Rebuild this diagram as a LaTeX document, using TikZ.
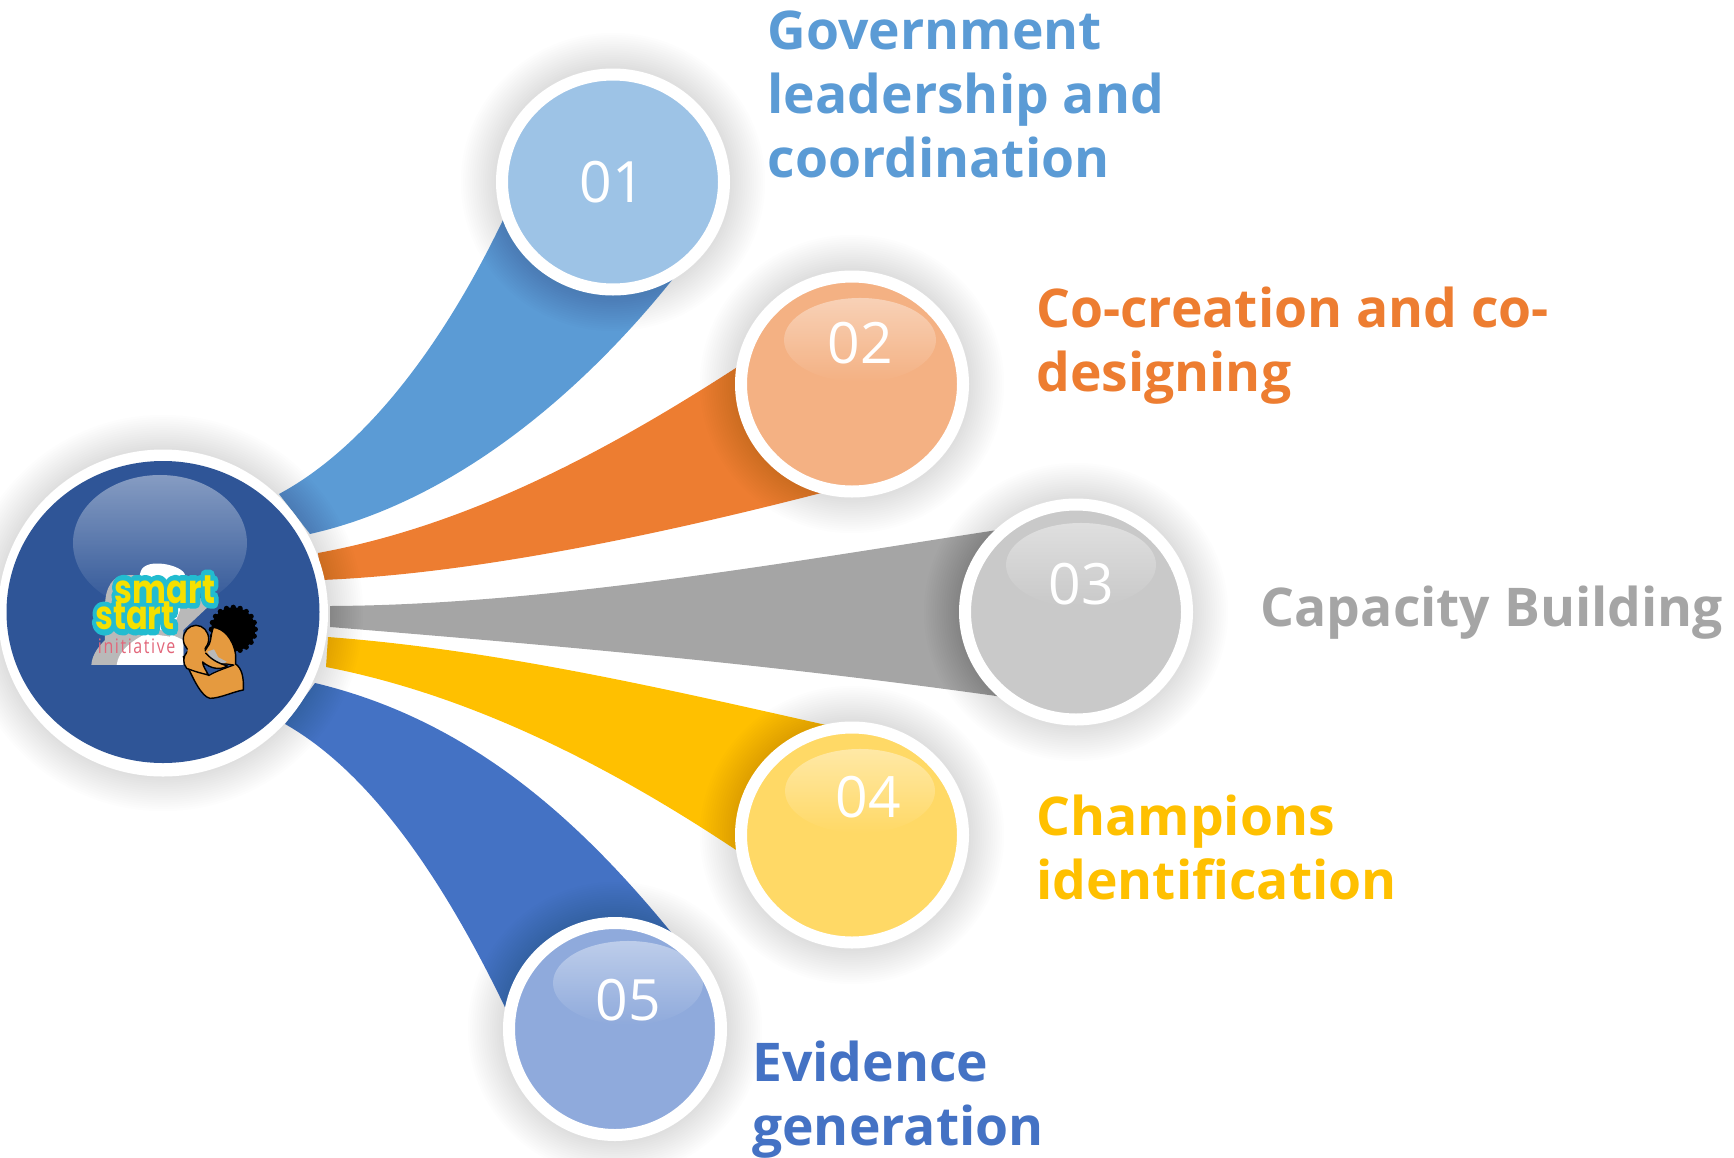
\documentclass[tikz,border=0pt]{standalone}
\usepackage{fontspec}
\setmainfont{Open Sans}
\newfontfamily\logofont{Poppins}
\newfontfamily\logohalo[BoldFeatures={FakeBold=28}]{Poppins}
\usetikzlibrary{fadings,shapes.geometric}
\definecolor{cA}{HTML}{5B9BD5}\definecolor{cAl}{HTML}{9DC3E6}
\definecolor{cB}{HTML}{ED7D31}\definecolor{cBl}{HTML}{F4B183}
\definecolor{cC}{HTML}{A5A5A5}\definecolor{cCl}{HTML}{C9C9C9}
\definecolor{cD}{HTML}{FFC000}\definecolor{cDl}{HTML}{FFD966}
\definecolor{cE}{HTML}{4472C4}\definecolor{cEl}{HTML}{8FAADC}
\definecolor{cMain}{HTML}{2F5597}
\definecolor{skin}{HTML}{E59A3F}
\definecolor{logoY}{HTML}{F5E000}\definecolor{logoC}{HTML}{22BCD0}
\definecolor{logoP}{HTML}{E2667A}\definecolor{logoG}{HTML}{B9B9B9}
\tikzset{
  disc/.style 2 args={ellipse,draw=white,line width=12pt,inner sep=0pt,minimum width=#1,minimum height=#2},
  hubdisc/.style 2 args={ellipse,inner sep=0pt,minimum width=#1,minimum height=#2},
  num/.style={text=white,inner sep=0pt,font=\fontsize{57}{57}\selectfont},
  lab/.style={anchor=north west,inner sep=0pt,align=left,font=\fontsize{53.4}{64}\selectfont\bfseries},
  logoword/.style={inner sep=0pt,font=\logofont\fontsize{40}{40}\selectfont\bfseries,xscale=.8},
  logoglow/.style={inner sep=0pt,text=logoC,font=\logohalo\fontsize{40}{40}\selectfont\bfseries,xscale=.8},
  skinline/.style={fill=skin,draw=black,line width=1.4pt},
}
\newcommand{\softshadow}[4]{%
  \foreach \i in {1,...,16}{\fill[black,opacity=0.008] (#1,#2) ellipse[x radius=#3+\i*2.2,y radius=#4+\i*2.2];}}
\newcommand{\gloss}[4]{%
  \fill[white,opacity=.42,path fading=south] (#1,#2) ellipse[x radius=#3,y radius=#4];}
\begin{document}
\begin{tikzpicture}[x=1pt,y=-1pt,line join=round]
\useasboundingbox (0,0) rectangle (1734,1157);
\clip (0,0) rectangle (1734,1157);
% ribbons
\fill[cA] (279,494) .. controls (370,445) and (450,335) .. (510,205) -- (680,270)
  .. controls (590,385) and (460,500) .. (310,534) -- cycle;
\fill[cB] (318,553) .. controls (470,525) and (610,450) .. (745,362) -- (825,492)
  .. controls (620,545) and (450,575) .. (321,580) -- cycle;
\fill[cC] (330,606) .. controls (550,605) and (800,560) .. (1010,528) -- (1010,698)
  .. controls (780,665) and (550,645) .. (330,627) -- cycle;
\fill[cD] (328,637) .. controls (500,650) and (670,690) .. (835,727) -- (745,856)
  .. controls (610,765) and (470,695) .. (326,667) -- cycle;
\fill[cE] (315,683) .. controls (470,720) and (580,820) .. (675,937) -- (512,1022)
  .. controls (450,890) and (375,775) .. (285,724) -- cycle;
% satellite discs
\softshadow{613}{182}{117}{114}
\node[disc={222pt}{215pt},fill=cAl] (c1) at (613,182) {};
\softshadow{852}{384}{117}{114}
\node[disc={222pt}{215pt},fill=cBl] (c2) at (852,384) {};
\gloss{860}{340}{76}{42}
\softshadow{1076}{612}{117}{114}
\node[disc={222pt}{215pt},fill=cCl] (c3) at (1076,612) {};
\gloss{1081}{565}{75}{42}
\softshadow{852}{835}{117}{114}
\node[disc={222pt}{215pt},fill=cDl] (c4) at (852,835) {};
\gloss{860}{791}{75}{42}
\softshadow{615}{1029}{112}{112}
\node[disc={212pt}{212pt},fill=cEl] (c5) at (615,1029) {};
\gloss{628}{983}{75}{42}
% main disc
\softshadow{163}{613}{165}{163}
\node[hubdisc={330pt}{327pt},fill=white] (hubring) at (163,613) {};
\node[hubdisc={313pt}{302pt},fill=cMain] (hub) at (163,612) {};
\gloss{160}{543}{87}{68}
% numbers
\node[num] (n1) at (612,182) {01};
\node[num] (n2) at (860,343) {02};
\node[num] (n3) at (1081,584) {03};
\node[num] (n4) at (868,797) {04};
\node[num] (n5) at (628,1000) {05};
% labels
\node[lab,text=cA] (t1) at (767.5,11) {Government\\leadership and\\coordination};
\node[lab,text=cB] (t2) at (1036,287) {Co-creation and co-\\designing};
\node[lab,text=cC] (t3) at (1260.5,586) {Capacity Building};
\node[lab,text=cD] (t4) at (1036,795) {Champions\\identification};
\node[lab,text=cE] (t5) at (752,1041) {Evidence\\generation};
% logo (coordinates in 3x crop units, origin 70,540)
\begin{scope}[shift={(70,540)},x=0.3333pt,y=-0.3333pt]
  \fill[logoG] (64,375) .. controls (66,345) and (85,320) .. (105,300) -- (105,200)
    .. controls (105,140) and (130,105) .. (170,105) -- (300,110) -- (420,195)
    -- (340,270) -- (340,375) -- cycle;
  \fill[white] (140,375) .. controls (145,330) and (190,300) .. (230,280) -- (300,290)
    -- (330,210) -- (320,150) -- (345,105) .. controls (340,75) and (225,50) .. (212,95)
    -- (200,140) -- (230,250) -- (340,300) -- (340,375) -- cycle;
  % mother
  \fill[black] (490,268) circle[radius=66];
  \foreach \a in {0,18,...,342}{\fill[black] ({490+66*cos(\a)},{268+66*sin(\a)}) circle[radius=8];}
  \filldraw[skinline] (430,262) .. controls (460,265) and (490,295) .. (497,345) -- (497,372)
    .. controls (515,385) and (522,410) .. (520,450)
    .. controls (490,455) and (450,475) .. (420,475)
    .. controls (395,470) and (370,420) .. (340,350) -- (400,340) -- (418,312)
    .. controls (424,298) and (422,285) .. (430,262) -- cycle;
  \fill[logoG] (412,335) -- (432,328) -- (445,352) -- (470,365) -- (440,385) -- cycle;
  \filldraw[fill=cMain,draw=black,line width=1.2pt] (395,372) .. controls (400,385) and (410,395) .. (416,407)
    .. controls (435,395) and (465,385) .. (492,375) -- (470,372) -- cycle;
  % baby
  \filldraw[skinline] (352,335) .. controls (338,350) and (338,370) .. (350,385)
    .. controls (375,395) and (395,400) .. (415,405)
    .. controls (408,390) and (398,378) .. (398,366)
    .. controls (420,385) and (450,392) .. (472,378)
    .. controls (455,372) and (430,365) .. (408,340) -- cycle;
  \filldraw[skinline] (378,297) ellipse[x radius=38,y radius=41];
  \fill[skin] (354,322) -- (403,322) -- (406,350) -- (350,355) -- cycle;
  % words
  \node[logoglow] (g1) at (285,148) {smart};
  \node[logoglow] (g2) at (195,228) {start};
  \node[logoword,text=logoY] (w1) at (285,148) {smart};
  \node[logoword,text=logoY] (w2) at (195,228) {start};
  \node[inner sep=0pt,text=logoP,xscale=.8,font=\fontsize{20}{20}\selectfont] (w3) at (200,318) {i\hspace{2pt}n\hspace{2pt}i\hspace{2pt}t\hspace{2pt}i\hspace{2pt}a\hspace{2pt}t\hspace{2pt}i\hspace{2pt}v\hspace{2pt}e};
\end{scope}
\end{tikzpicture}
\end{document}
